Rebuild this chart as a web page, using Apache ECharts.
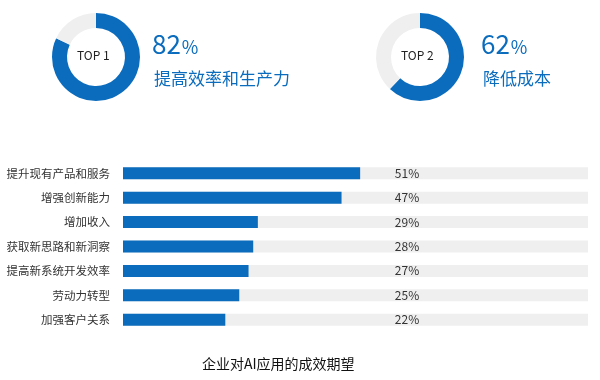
<!DOCTYPE html>
<html><head><meta charset="utf-8">
<script src="https://cdn.jsdelivr.net/npm/echarts@6/dist/echarts.min.js"></script>
<style>html,body{margin:0;padding:0;background:#fff}#c{width:600px;height:380px}</style>
</head><body><div id="c"></div>
<script>
const categories = ['提升现有产品和服务','增强创新能力','增加收入','获取新思路和新洞察','提高新系统开发效率','劳动力转型','加强客户关系'];
const values = [51, 47, 29, 28, 27, 25, 22];
const topLabels = ['TOP 1', 'TOP 2'];
const topValues = [82, 62];
const topNames = ['提高效率和生产力', '降低成本'];
const title = '企业对AI应用的成效期望';

const BLUE = '#0b6cbd', GRAY = '#efefef';
const FONT = '"Noto Sans CJK SC", "Noto Sans", sans-serif';
const chart = echarts.init(document.getElementById('c'));

const donutCenters = [[96, 57], [420, 57]];
const textX = [152, 481];

const pies = topValues.map((v, i) => ({
  type: 'pie', center: donutCenters[i], radius: [29, 44], startAngle: 90,
  silent: true, label: {show: false}, labelLine: {show: false},
  data: [{value: v, itemStyle: {color: BLUE}}, {value: 100 - v, itemStyle: {color: GRAY}}]
}));

const graphics = [];
topValues.forEach((v, i) => {
  graphics.push({type: 'text', left: donutCenters[i][0] - 19, top: donutCenters[i][1] - 8,
    style: {text: topLabels[i], font: '12px ' + FONT, fill: '#222'}});
  graphics.push({type: 'text', left: textX[i], top: 31,
    style: {text: v + '{p|%}', font: '26px ' + FONT, fill: BLUE,
      rich: {p: {font: '18px ' + FONT, fill: BLUE, padding: [6, 0, 0, 1]}}}});
  graphics.push({type: 'text', left: textX[i] + (i ? 2 : 2), top: 70,
    style: {text: topNames[i], font: '17px ' + FONT, fill: BLUE}});
});
graphics.push({type: 'text', left: 202, top: 357, style: {text: title, font: '14px ' + FONT, fill: '#111'}});

chart.setOption({
  animation: false,
  grid: {left: 123, right: 12, top: 161, bottom: 48},
  xAxis: {type: 'value', min: 0, max: 100, show: false},
  yAxis: {type: 'category', data: categories, inverse: true,
    axisLine: {show: false}, axisTick: {show: false},
    axisLabel: {color: '#333', fontSize: 11.5, fontFamily: FONT, margin: 13}},
  graphic: graphics,
  series: [...pies, {
    type: 'bar', data: values, barWidth: 12,
    itemStyle: {color: BLUE},
    showBackground: true, backgroundStyle: {color: GRAY},
    label: {show: true, position: [284, 6], align: 'center', verticalAlign: 'middle',
      formatter: '{c}%', color: '#333', fontSize: 12, fontFamily: FONT}
  }]
});
</script></body></html>
